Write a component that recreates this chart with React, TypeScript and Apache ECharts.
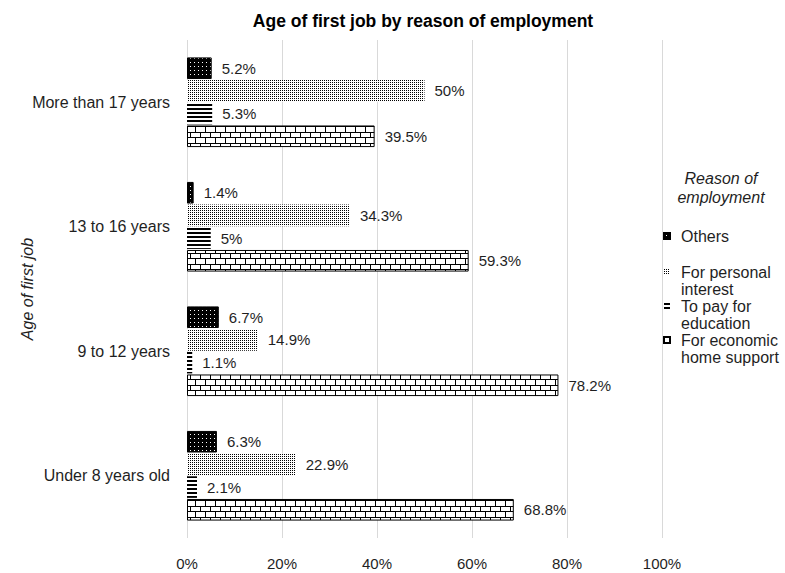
import React, { useEffect, useRef } from 'react';
import * as echarts from 'echarts';

// ---- Data ----
const categories = ['Under 8 years old', '9 to 12 years', '13 to 16 years', 'More than 17 years'];
const seriesNames = ['Others', 'For personal interest', 'To pay for education', 'For economic home support'];
const others = [6.3, 6.7, 1.4, 5.2];
const personalInterest = [22.9, 14.9, 34.3, 50];
const payEducation = [2.1, 1.1, 5, 5.3];
const economicSupport = [68.8, 78.2, 59.3, 39.5];
const xTicks = [0, 20, 40, 60, 80, 100];

const legendLabels: Record<string, string> = {
  'Others': 'Others',
  'For personal interest': 'For personal\ninterest',
  'To pay for education': 'To pay for\neducation',
  'For economic home support': 'For economic\nhome support',
};

const FONT = '"Liberation Sans", Arial, sans-serif';
const TEXT = '#1f1f1f';

function svgUrl(svg: string) {
  return 'data:image/svg+xml;utf8,' + encodeURIComponent(svg);
}

function pattern(svgBody: string, w: number, h: number) {
  const svg = `<svg xmlns="http://www.w3.org/2000/svg" width="${w}" height="${h}" shape-rendering="crispEdges">${svgBody}</svg>`;
  return { type: 'pattern', image: svgUrl(svg), repeat: 'repeat', imageWidth: w, imageHeight: h } as any;
}

const othersPattern = pattern(
  '<rect width="4" height="4" fill="#000"/><rect x="2" y="2" width="1" height="1" fill="#fff"/>',
  4, 4
);
const personalPattern = pattern(
  '<rect width="2" height="2" fill="#fff"/><rect x="0" y="0" width="1" height="1" fill="#000"/>',
  2, 2
);
const educationPattern = pattern(
  '<rect width="4" height="4" fill="#fff"/><rect x="0" y="0" width="4" height="2" fill="#000"/>',
  4, 4
);
const bricksPattern = pattern(
  '<rect width="10" height="11" fill="#fff"/>' +
    '<rect x="0" y="0" width="10" height="1" fill="#000"/>' +
    '<rect x="0" y="5" width="10" height="1" fill="#000"/>' +
    '<rect x="0" y="0" width="1" height="5" fill="#000"/>' +
    '<rect x="5" y="5" width="1" height="6" fill="#000"/>',
  10, 11
);

export default function App() {
  const ref = useRef<HTMLDivElement>(null);

  useEffect(() => {
    if (!ref.current) return;
    const chart = echarts.init(ref.current, undefined, { renderer: 'svg' });

    const label = {
      show: true,
      position: 'right',
      distance: 10,
      formatter: (p: any) => p.value + '%',
      fontSize: 15,
      color: TEXT,
      fontFamily: FONT,
    };

    const mk = (name: string, data: number[], color: any, border: boolean) => ({
      name,
      type: 'bar',
      data,
      barCategoryGap: '28%',
      barGap: '5%',
      itemStyle: {
        color,
        borderColor: border ? '#000' : undefined,
        borderWidth: border ? 1 : 0,
      },
      label,
      emphasis: { disabled: true },
    });

    const legendText = {
      fontSize: 16,
      color: TEXT,
      fontFamily: FONT,
      lineHeight: 17,
      padding: [0, 0, 0, 6],
    };

    chart.setOption({
      animation: false,
      backgroundColor: '#fff',
      title: {
        text: 'Age of first job by reason of employment',
        left: 418,
        textAlign: 'center',
        top: 7,
        textStyle: { fontFamily: FONT, fontSize: 17.5, fontWeight: 'bold', color: '#000' },
      },
      grid: { left: 187, right: 123, top: 40, bottom: 35 },
      xAxis: {
        type: 'value',
        min: xTicks[0],
        max: xTicks[xTicks.length - 1],
        interval: xTicks[1] - xTicks[0],
        axisLine: { show: false },
        axisTick: { show: false },
        splitLine: { show: true, lineStyle: { color: '#d9d9d9', width: 1 } },
        axisLabel: { formatter: '{value}%', fontSize: 15, color: TEXT, fontFamily: FONT, margin: 18 },
      },
      yAxis: {
        type: 'category',
        data: categories,
        axisLine: { show: false },
        axisTick: { show: false },
        axisLabel: { fontSize: 16, color: TEXT, fontFamily: FONT, margin: 17 },
        name: 'Age of first job',
        nameLocation: 'middle',
        nameGap: 152,
        nameMoveOverlap: false,
        nameTextStyle: { fontSize: 16, fontStyle: 'italic', color: TEXT, fontFamily: FONT },
      },
      legend: [
        {
          data: [seriesNames[0]],
          orient: 'vertical',
          left: 663,
          top: 227.5,
          icon: 'rect',
          itemWidth: 6,
          itemHeight: 6,
          padding: 0,
          selectedMode: false,
          formatter: (n: string) => legendLabels[n],
          textStyle: legendText,
        },
        {
          data: [seriesNames[1], seriesNames[2], seriesNames[3]],
          orient: 'vertical',
          left: 663,
          top: 263.5,
          itemGap: 0,
          icon: 'path://M0 0H6V6H0Z M0 23L0.01 23',
          itemWidth: 6,
          itemHeight: 23,
          padding: 0,
          selectedMode: false,
          formatter: (n: string) => legendLabels[n],
          textStyle: legendText,
        },
      ],
      graphic: [
        {
          type: 'text',
          x: 721,
          y: 188,
          style: {
            text: 'Reason of\nemployment',
            textAlign: 'center',
            textVerticalAlign: 'middle',
            font: 'italic 16px "Liberation Sans", Arial, sans-serif',
            lineHeight: 19,
            fill: TEXT,
          },
        },
      ],
      series: [
        mk(seriesNames[0], others, othersPattern, true),
        mk(seriesNames[1], personalInterest, personalPattern, false),
        mk(seriesNames[2], payEducation, educationPattern, false),
        mk(seriesNames[3], economicSupport, bricksPattern, true),
      ],
    });

    return () => chart.dispose();
  }, []);

  return <div ref={ref} style={{ position: 'absolute', left: 0, top: 0, width: 785, height: 573 }} />;
}
